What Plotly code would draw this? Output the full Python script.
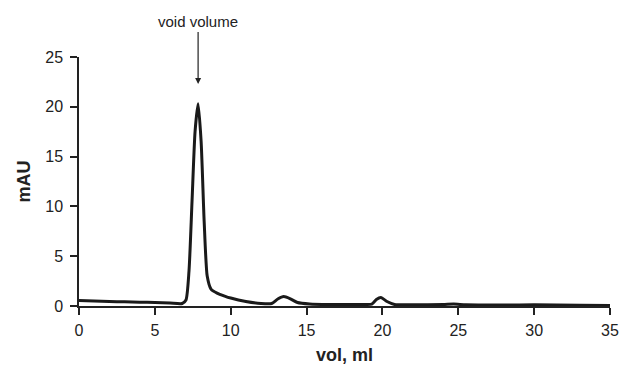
import plotly.graph_objects as go

vol = [0, 1, 2, 3, 4, 5, 6, 6.8, 7.05, 7.25, 7.45, 7.65, 7.85, 8.05, 8.25, 8.45, 8.7, 9.1, 9.6, 10, 11, 12, 12.7,
       13.1, 13.5, 13.9, 14.4, 15.2, 16.5, 18, 19.3, 19.6, 19.9, 20.3, 20.8, 22, 24, 24.7, 25.5, 28, 30, 33, 35]
mau = [0.55, 0.5, 0.45, 0.42, 0.38, 0.35, 0.3, 0.25, 0.6, 3.5, 10.5, 17.5, 20.3, 16.5, 8.5, 3.0, 1.7, 1.3, 1.0, 0.8,
       0.45, 0.25, 0.25, 0.7, 0.95, 0.75, 0.35, 0.2, 0.15, 0.15, 0.2, 0.65, 0.85, 0.45, 0.15, 0.12, 0.15, 0.2, 0.12, 0.1, 0.12, 0.08, 0.05]

x_ticks = [0, 5, 10, 15, 20, 25, 30, 35]
y_ticks = [0, 5, 10, 15, 20, 25]

fig = go.Figure()
fig.add_trace(go.Scatter(x=vol, y=mau, mode="lines",
                         line=dict(color="#1a1a1a", width=3, shape="spline", smoothing=0.6),
                         showlegend=False))

fig.add_annotation(x=7.85, y=22.3, xref="x", yref="y", text="void volume",
                   showarrow=True, arrowhead=2, arrowsize=1, arrowwidth=1.2, arrowcolor="#222",
                   ax=0, ay=-62, font=dict(family="Liberation Sans, Arial", size=15, color="#222"))

fig.update_layout(
    width=623, height=373,
    margin=dict(l=79, r=13, t=57, b=67, autoexpand=False),
    paper_bgcolor="white", plot_bgcolor="white",
    font=dict(family="Liberation Sans, Arial", size=16, color="#222"),
    xaxis=dict(range=[0, 35], tickvals=x_ticks, showgrid=False, zeroline=False, automargin=False,
               showline=True, linecolor="#222", linewidth=1.5, ticks="outside", ticklen=7,
               tickwidth=1.5, tickcolor="#222", ticklabelstandoff=2,
               title=dict(text="<b>vol, ml</b>", font=dict(size=18), standoff=10)),
    yaxis=dict(range=[0, 25], tickvals=y_ticks, showgrid=False, zeroline=False, automargin=False,
               showline=True, linecolor="#222", linewidth=1.5, ticks="outside", ticklen=7,
               tickwidth=1.5, tickcolor="#222", ticklabelstandoff=4,
               title=dict(text="<b>mAU</b>", font=dict(size=18), standoff=10)),
)

fig.write_html("out.html")
